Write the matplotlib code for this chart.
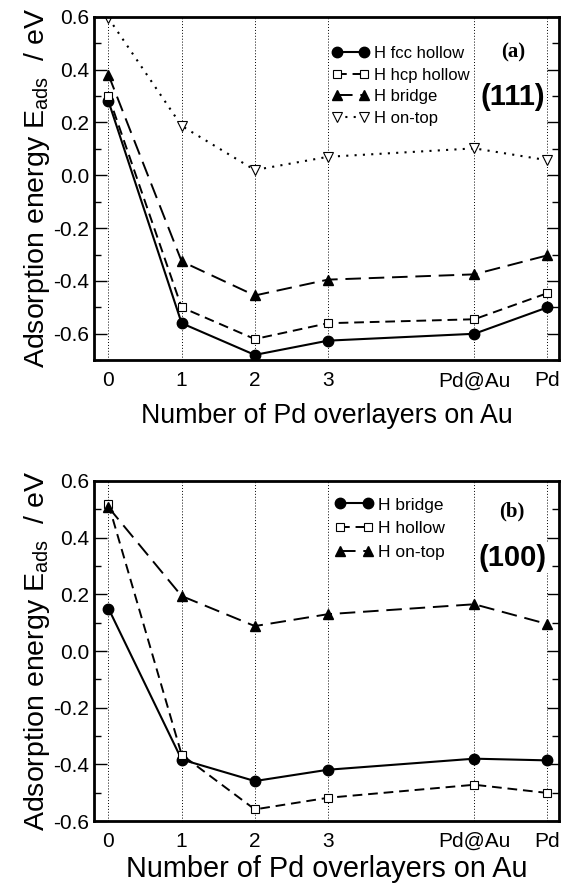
import matplotlib
matplotlib.use("Agg")
import numpy as np
from matplotlib import pyplot as plt
from matplotlib.ticker import MultipleLocator

plt.rcParams["font.family"] = ["Liberation Sans", "DejaVu Sans"]
plt.rcParams["mathtext.fontset"] = "custom"
plt.rcParams["mathtext.rm"] = "Liberation Sans"

# x positions of the overlayer cases and their labels
xpos = [0, 1, 2, 3, 5, 6]
xlabels = ["0", "1", "2", "3", "Pd@Au", "Pd"]

# (111) surface, panel (a)
fcc_hollow = [0.28, -0.56, -0.68, -0.626, -0.60, -0.50]
hcp_hollow = [0.30, -0.50, -0.62, -0.56, -0.545, -0.446]
bridge_111 = [0.38, -0.326, -0.455, -0.395, -0.375, -0.303]
ontop_111 = [0.595, 0.187, 0.02, 0.07, 0.102, 0.057]

# (100) surface, panel (b)
bridge_100 = [0.15, -0.383, -0.459, -0.419, -0.38, -0.386]
hollow_100 = [0.518, -0.366, -0.559, -0.518, -0.472, -0.501]
ontop_100 = [0.507, 0.194, 0.088, 0.13, 0.165, 0.095]

fig = plt.figure(figsize=(5.62, 8.85), dpi=100)
ax1 = fig.add_axes([0.167, 0.593, 0.828, 0.388])
ax2 = fig.add_axes([0.167, 0.0723, 0.828, 0.3842])

solid = dict(color="black", lw=1.5, marker="o", ms=7.5, mfc="black", mec="black")
short_dash = dict(color="black", lw=1.4, ls=(0, (5, 3)), marker="s", ms=5.5,
                  mfc="white", mec="black", mew=0.8)
long_dash = dict(color="black", lw=1.4, ls=(0, (8, 4)), marker="^", ms=7,
                 mfc="black", mec="black")
dotted = dict(color="black", lw=1.5, ls=(0, (1, 3)), marker="v", ms=6.5,
              mfc="white", mec="black", mew=0.8)

ax1.plot(xpos, fcc_hollow, label="H fcc hollow", **solid)
ax1.plot(xpos, hcp_hollow, label="H hcp hollow", **short_dash)
ax1.plot(xpos, bridge_111, label="H bridge", **long_dash)
ax1.plot(xpos, ontop_111, label="H on-top", **dotted)

ax2.plot(xpos, bridge_100, label="H bridge", **solid)
ax2.plot(xpos, hollow_100, label="H hollow", **short_dash)
ax2.plot(xpos, ontop_100, label="H on-top", **long_dash)

for ax, ylo, xfs, xpad in [(ax1, -0.7, 19.3, 9), (ax2, -0.6, 20.8, 3)]:
    ax.set_xlim(-0.2, 6.16)
    ax.set_ylim(ylo, 0.6)
    for x in xpos:
        ax.axvline(x, color="black", lw=0.7, ls=(0, (1, 2)), zorder=0)
    ax.set_xticks(xpos)
    ax.set_xticklabels(xlabels)
    ax.yaxis.set_major_locator(MultipleLocator(0.2))
    ax.yaxis.set_minor_locator(MultipleLocator(0.1))
    ax.yaxis.set_major_formatter(matplotlib.ticker.FormatStrFormatter("%.1f"))
    ax.tick_params(axis="x", length=0, labelsize=15, pad=8)
    ax.tick_params(axis="y", which="major", direction="in", length=9, width=1,
                   labelsize=15, left=True, right=True)
    ax.tick_params(axis="y", which="minor", direction="in", length=5, width=1,
                   left=True, right=True)
    for s in ax.spines.values():
        s.set_linewidth(2)
    ax.set_xlabel("Number of Pd overlayers on Au", fontsize=xfs, labelpad=xpad)
    ax.set_ylabel(r"Adsorption energy E$_{\rm ads}$  / eV", fontsize=20.5, labelpad=1)

box = dict(facecolor="white", edgecolor="none", pad=1)
leg1 = ax1.legend(loc="upper left", bbox_to_anchor=(0.505, 0.925), fontsize=12,
                  frameon=True, framealpha=1, edgecolor="none", fancybox=False,
                  numpoints=2, handlelength=2.2, handletextpad=0.3,
                  labelspacing=0.4, borderpad=0.2, borderaxespad=0)
ax1.text(0.901, 0.895, "(a)", transform=ax1.transAxes, ha="center", va="center",
         fontsize=15, fontweight="bold", family="Liberation Serif", bbox=box)
ax1.text(0.90, 0.767, "(111)", transform=ax1.transAxes, ha="center", va="center",
         fontsize=21, fontweight="bold", family=["Liberation Sans Narrow", "Liberation Sans"],
         bbox=box)

leg2 = ax2.legend(loc="upper left", bbox_to_anchor=(0.51, 0.962), fontsize=12.5,
                  frameon=True, framealpha=1, edgecolor="none", fancybox=False,
                  numpoints=2, handlelength=2.2, handletextpad=0.3,
                  labelspacing=0.5, borderpad=0.2, borderaxespad=0)
ax2.text(0.899, 0.909, "(b)", transform=ax2.transAxes, ha="center", va="center",
         fontsize=15, fontweight="bold", family="Liberation Serif", bbox=box)
ax2.text(0.90, 0.774, "(100)", transform=ax2.transAxes, ha="center", va="center",
         fontsize=21, fontweight="bold", family=["Liberation Sans Narrow", "Liberation Sans"],
         bbox=box)

fig.savefig("out.png", dpi=100)
